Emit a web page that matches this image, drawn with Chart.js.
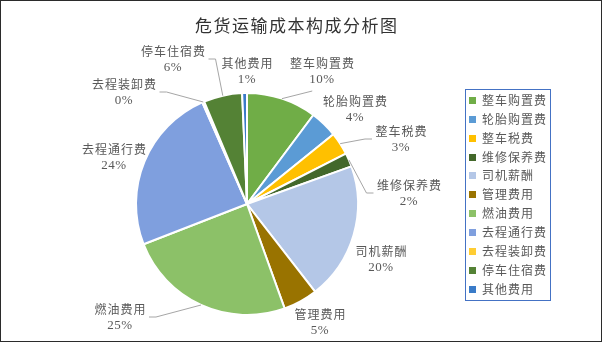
<!DOCTYPE html>
<html>
<head>
<meta charset="utf-8">
<script src="https://cdn.jsdelivr.net/npm/chart.js"></script>
<style>
  html, body { margin: 0; padding: 0; background: #fff; }
  canvas { display: block; }
</style>
</head>
<body>
<canvas id="chart" width="603" height="343"></canvas>
<script>
// Chart data
const chartTitle = '危货运输成本构成分析图';
const categories = ['整车购置费', '轮胎购置费', '整车税费', '维修保养费', '司机薪酬', '管理费用',
  '燃油费用', '去程通行费', '去程装卸费', '停车住宿费', '其他费用'];
const shares = [10.2, 4.0, 3.3, 2.0, 20.0, 5.0, 24.6, 24.3, 0.3, 5.6, 0.7];

// Slice colours (Excel palette)
const sliceColors = ['#70AD47', '#5B9BD5', '#FFC000', '#43682B', '#B4C7E7', '#997300',
  '#8CC168', '#7F9FDE', '#FFCD33', '#548235', '#3A7BC8'];

// Label placement relative to the pie centre, and where the leader line attaches
const labelOffsets = [[75, -133], [108, -95], [154, -65], [162, -11], [134, 55], [73, 118],
  [-127, 113], [-133, -47], [-123, -112], [-74, -145], [0, -133]];
const leaderSide = ['bottom', null, 'left', 'left', null, null, 'right', null, 'right', 'right', null];

const CJK = '"Noto Sans CJK SC", "Noto Sans", sans-serif';

function pctText(i) {
  const total = shares.reduce((a, b) => a + b, 0);
  return Math.round(shares[i] / total * 100) + '%';
}

// Frame, title and legend
const decorPlugin = {
  id: 'decor',
  beforeDraw(chart) {
    const ctx = chart.ctx;
    ctx.save();
    ctx.fillStyle = '#fff';
    ctx.fillRect(0, 0, chart.width, chart.height);
    ctx.strokeStyle = '#2b2b2b';
    ctx.lineWidth = 1;
    ctx.strokeRect(0.5, 0.5, chart.width - 2, chart.height - 2);

    ctx.fillStyle = '#333';
    ctx.font = '17px ' + CJK;
    ctx.letterSpacing = '1.5px';
    ctx.textAlign = 'left';
    ctx.textBaseline = 'middle';
    ctx.fillText(chartTitle, 195, 26);
    ctx.restore();
  },
  afterDraw(chart) {
    const ctx = chart.ctx;
    ctx.save();
    ctx.strokeStyle = '#4472C4';
    ctx.lineWidth = 1;
    ctx.strokeRect(465.5, 89.5, 85, 211);
    ctx.font = '12px ' + CJK;
    ctx.letterSpacing = '1px';
    ctx.textAlign = 'left';
    ctx.textBaseline = 'middle';
    categories.forEach((name, i) => {
      const y = 100.5 + i * 18.85;
      ctx.fillStyle = sliceColors[i];
      ctx.fillRect(469, Math.round(y - 3.5), 7, 7);
      ctx.fillStyle = '#595959';
      ctx.fillText(name, 482, y);
    });
    ctx.restore();
  }
};

// Data labels with leader lines
const labelPlugin = {
  id: 'sliceLabels',
  afterDatasetsDraw(chart) {
    const ctx = chart.ctx;
    const arcs = chart.getDatasetMeta(0).data;
    ctx.save();
    arcs.forEach((arc, i) => {
      const { x, y, outerRadius, startAngle, endAngle } = arc.getProps(['x', 'y', 'outerRadius', 'startAngle', 'endAngle'], true);
      const mid = (startAngle + endAngle) / 2;
      const ax = x + Math.cos(mid) * outerRadius;
      const ay = y + Math.sin(mid) * outerRadius;
      const cx = x + labelOffsets[i][0];
      const cy = y + labelOffsets[i][1];
      const nameY = cy - 8;
      const pctY = cy + 8.5;

      ctx.font = '12px ' + CJK;
      ctx.letterSpacing = '1px';
      const w = ctx.measureText(categories[i]).width;
      const box = { left: cx - w / 2, right: cx + w / 2, top: cy - 16, bottom: cy + 16 };

      const side = leaderSide[i];
      if (side) {
        ctx.strokeStyle = '#A6A6A6';
        ctx.lineWidth = 1;
        ctx.beginPath();
        ctx.moveTo(ax, ay);
        if (side === 'bottom') {
          ctx.lineTo(box.left + w * 0.35, box.bottom + 4);
        } else if (side === 'left') {
          ctx.lineTo(box.left - 10, cy);
          ctx.lineTo(box.left - 3, cy);
        } else {
          ctx.lineTo(box.right + 10, cy);
          ctx.lineTo(box.right + 3, cy);
        }
        ctx.stroke();
      }

      ctx.fillStyle = '#595959';
      ctx.textAlign = 'center';
      ctx.textBaseline = 'middle';
      ctx.fillText(categories[i], cx + 0.5, nameY);
      ctx.font = '13px "Liberation Serif", serif';
      ctx.letterSpacing = '0.5px';
      ctx.fillText(pctText(i), cx, pctY);
    });
    ctx.restore();
  }
};

new Chart(document.getElementById('chart'), {
  type: 'pie',
  data: {
    labels: categories,
    datasets: [{
      data: shares,
      backgroundColor: sliceColors,
      borderColor: '#fff',
      borderWidth: 2
    }]
  },
  options: {
    responsive: false,
    animation: false,
    devicePixelRatio: 1,
    layout: { padding: { left: 135, right: 244, top: 92, bottom: 27 } },
    plugins: {
      legend: { display: false },
      tooltip: { enabled: false }
    }
  },
  plugins: [decorPlugin, labelPlugin]
});
</script>
</body>
</html>
